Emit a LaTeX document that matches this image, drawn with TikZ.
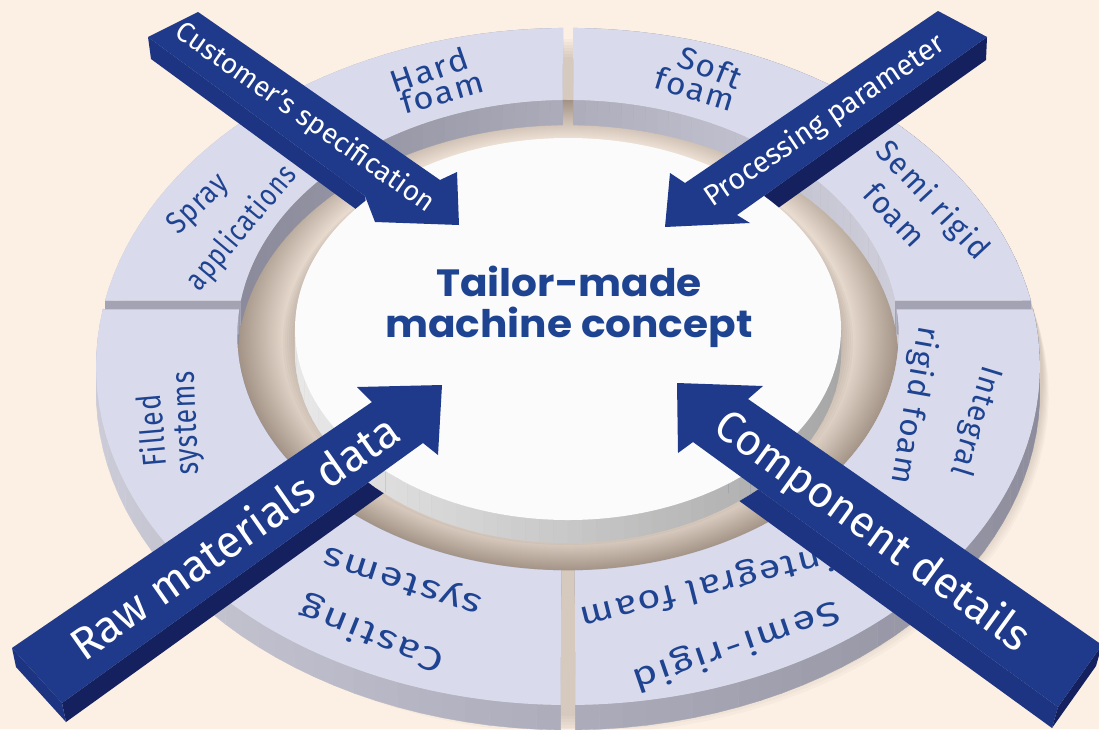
\documentclass[tikz,border=0pt]{standalone}
\usepackage{fontspec}
\setmainfont{Fira Sans}
\newfontfamily\ctrfont{Poppins}
\usetikzlibrary{calc}
\definecolor{bgc}{HTML}{FCEFE4}
\definecolor{segtop}{HTML}{D9DAEC}
\definecolor{wlight}{HTML}{CFCFDC}
\definecolor{wdark}{HTML}{8A8A9A}
\definecolor{wmid}{HTML}{A3A3B3}
\definecolor{dtop}{HTML}{FBFBFB}
\definecolor{dlight}{HTML}{EAEAEA}
\definecolor{ddark}{HTML}{A6A6A6}
\definecolor{arrtop}{HTML}{1F3A8A}
\definecolor{arrlit}{HTML}{1C3482}
\definecolor{arrdark}{HTML}{14215E}
\definecolor{labc}{HTML}{1E4391}
\definecolor{shc}{HTML}{6E5E52}
\definecolor{holein}{HTML}{F6E9DD}
\definecolor{holeout}{HTML}{A29386}
\pgfdeclareradialshading{holesh}{\pgfpoint{0bp}{0bp}}{color(0bp)=(holein); color(20.5bp)=(holein); color(25bp)=(holeout); color(50bp)=(holeout)}

\newcommand\ringseg[2]{%
 \pgfmathsetmacro\sOa{#1+0.75}%
 \pgfmathsetmacro\sOb{#2-0.75}%
 \pgfmathsetmacro\sIa{#1+1.06}%
 \pgfmathsetmacro\sIb{#2-1.06}%
 \foreach \i in {0,...,17}{%
  \pgfmathsetmacro\fA{\sOa+(\sOb-\sOa)*\i/18}%
  \pgfmathsetmacro\fB{\sOa+(\sOb-\sOa)*(\i+1)/18}%
  \pgfmathtruncatemacro\fP{50-48*cos((\fA+\fB)/2)}%
  \path[fill=wlight!\fP!wdark, draw=wlight!\fP!wdark, line width=0.3pt]
   ({PX(1,\fA)},{PY(1,\fA)}) -- ({PX(1,\fB)},{PY(1,\fB)}) --
   ({PX(1,\fB)},{PY(1,\fB)+25}) -- ({PX(1,\fA)},{PY(1,\fA)+25}) -- cycle;
 }%
 \foreach \i in {0,...,17}{%
  \pgfmathsetmacro\fA{\sIa+(\sIb-\sIa)*\i/18}%
  \pgfmathsetmacro\fB{\sIa+(\sIb-\sIa)*(\i+1)/18}%
  \pgfmathtruncatemacro\fP{50+48*cos((\fA+\fB)/2)}%
  \path[fill=wlight!\fP!wdark, draw=wlight!\fP!wdark, line width=0.3pt]
   ({PX(0.707,\fA)},{PY(0.707,\fA)}) -- ({PX(0.707,\fB)},{PY(0.707,\fB)}) --
   ({PX(0.707,\fB)},{PY(0.707,\fB)+25}) -- ({PX(0.707,\fA)},{PY(0.707,\fA)+25}) -- cycle;
 }%
 \path[fill=wmid] ({PX(1,\sOa)},{PY(1,\sOa)}) -- ({PX(0.707,\sIa)},{PY(0.707,\sIa)}) --
   ({PX(0.707,\sIa)},{PY(0.707,\sIa)+25}) -- ({PX(1,\sOa)},{PY(1,\sOa)+25}) -- cycle;
 \path[fill=wmid] ({PX(1,\sOb)},{PY(1,\sOb)}) -- ({PX(0.707,\sIb)},{PY(0.707,\sIb)}) --
   ({PX(0.707,\sIb)},{PY(0.707,\sIb)+25}) -- ({PX(1,\sOb)},{PY(1,\sOb)+25}) -- cycle;
 \path[fill=segtop] plot[domain=\sOa:\sOb, samples=60, variable=\x] ({PX(1,\x)},{PY(1,\x)})
   -- plot[domain=\sIa:\sIb, samples=45, variable=\x] ({PX(0.707,\sIa+\sIb-\x)},{PY(0.707,\sIa+\sIb-\x)}) -- cycle;
}

\begin{document}
\begin{tikzpicture}[x=1pt,y=-1pt,
  declare function={PX(\q,\w)=568+464*\q*cos(\w)/(1+0.1817*\q*sin(\w));
                    PY(\q,\w)=305-327.3*\q*sin(\w)/(1+0.1817*\q*sin(\w));},
  seglab/.style={font=\fontsize{31}{30}\selectfont\addfontfeatures{LetterSpace=5}, text=labc, align=center, inner sep=0pt},
  biglab/.style={seglab, font=\fontsize{33}{37}\selectfont\addfontfeatures{LetterSpace=5}},
  arrlab/.style={text=white, inner sep=0pt}]
\fill[bgc] (0,0) rectangle (1099,729);
\useasboundingbox (0,0) rectangle (1099,729);

% arrow vertices
\coordinate (a1c1) at (198,12);  \coordinate (a1s1) at (440,180); \coordinate (a1b1) at (457,172);
\coordinate (a1t) at (459,225);  \coordinate (a1b2) at (375,222); \coordinate (a1s2) at (365,196);
\coordinate (a1c2) at (148,37);
\coordinate (a2c1) at (938,11);  \coordinate (a2s1) at (685,183); \coordinate (a2b1) at (670,173);
\coordinate (a2t) at (665,227);  \coordinate (a2b2) at (750,223); \coordinate (a2s2) at (737,215);
\coordinate (a2c2) at (987,37);
\coordinate (a3c1) at (12,648);  \coordinate (a3s1) at (372,402); \coordinate (a3b1) at (357,387);
\coordinate (a3t) at (442,385);  \coordinate (a3b2) at (438,455); \coordinate (a3s2) at (423,443);
\coordinate (a3c2) at (62,703);
\coordinate (a4c1) at (1102,645); \coordinate (a4s1) at (748,399); \coordinate (a4b1) at (763,386);
\coordinate (a4t) at (677,383);  \coordinate (a4b2) at (678,453); \coordinate (a4s2) at (693,442);
\coordinate (a4c2) at (1058,707);

% ring shadow
\foreach \k in {1,...,7}{
  \fill[shc, opacity=0.04] plot[domain=0:360, samples=100, variable=\x] ({PX(1,\x)+2+\k},{PY(1,\x)+8+3*\k}) -- cycle;
}
% arrow shadows
\foreach \k in {1,...,6}{
  \begin{scope}[shift={(1*\k,6+3*\k)}]
  \fill[shc, opacity=0.05] (a1c1) -- (a1s1) -- (a1b1) -- (a1t) -- (a1b2) -- (a1s2) -- (a1c2) -- cycle;
  \fill[shc, opacity=0.05] (a2c1) -- (a2s1) -- (a2b1) -- (a2t) -- (a2b2) -- (a2s2) -- (a2c2) -- cycle;
  \fill[shc, opacity=0.05] (a3c1) -- (a3s1) -- (a3b1) -- (a3t) -- (a3b2) -- (a3s2) -- (a3c2) -- cycle;
  \fill[shc, opacity=0.05] (a4c1) -- (a4s1) -- (a4b1) -- (a4t) -- (a4b2) -- (a4s2) -- (a4c2) -- cycle;
  \end{scope}
}
% hole
\shade[shading=holesh] plot[domain=0:360, samples=100, variable=\x] ({PX(0.707,\x)},{PY(0.707,\x)}) -- cycle;
% disc shadow (soft)
\foreach \k in {1,...,6}{
  \fill[shc, opacity=0.06] (568,336+\k) ellipse [x radius={(273+2*\k)*1pt}, y radius={(191+2*\k)*1pt}];
}
% ring segments, far to near
\ringseg{90}{135}
\ringseg{45}{90}
\ringseg{135}{180}
\ringseg{0}{45}
\ringseg{180}{225}
\ringseg{315}{360}
\ringseg{225}{270}
\ringseg{270}{315}

% ring labels (lie under the arrows)
\node[seglab, rotate=19, xscale=1.12] (hard1) at (429,70) {Hard};
\node[seglab, rotate=16, xscale=1.12] (hard2) at (442,92) {foam};
\node[seglab, rotate=-22, xscale=1.08] (soft1) at (710,67) {Soft};
\node[seglab, rotate=-17, xscale=1.08] (soft2) at (695,89) {foam};
\node[seglab, rotate=44, xscale=0.86] (spray1) at (199,205) {Spray};
\node[seglab, rotate=50, xscale=0.8] (spray2) at (242,228) {applications};
\node[seglab, rotate=-47, xscale=0.97] (semi1) at (932,201) {Semi rigid};
\node[seglab, rotate=-47, xscale=0.97] (semi2) at (895,215) {foam};
\node[biglab, rotate=95, xscale=0.8] (filled1) at (151,431) {Filled};
\node[biglab, rotate=92, xscale=0.8] (filled2) at (189,423) {systems};
\node[seglab, rotate=-107, xscale=0.95] (integ1) at (975,421) {Integral};
\node[seglab, rotate=-100, xscale=1.02] (integ2) at (914,405) {rigid foam};
\node[biglab, rotate=158, xscale=1.28] (cast1) at (372,634) {Casting};
\node[biglab, rotate=162, xscale=1.28] (cast2) at (403,579) {systems};
\node[biglab, rotate=199, xscale=1.28] (sint1) at (736,645) {Semi-rigid};
\node[biglab, rotate=194, xscale=1.2] (sint2) at (707,586) {integral foam};

% arrow side faces
\fill[arrlit] (a1c2) -- (a1s2) -- ($(a1s2)+(3,22)$) -- ($(a1c2)+(3,22)$) -- cycle;
\fill[arrdark] (a2c2) -- (a2s2) -- ($(a2s2)+(-1,23)$) -- ($(a2c2)+(-1,23)$) -- cycle;
\fill[arrdark] (a3c2) -- (a3s2) -- ($(a3s2)+(4,19)$) -- ($(a3c2)+(4,19)$) -- cycle;
\fill[arrlit] (a3c1) -- (a3c2) -- ($(a3c2)+(4,19)$) -- ($(a3c1)+(4,19)$) -- cycle;
\fill[arrlit] (a4c2) -- (a4s2) -- ($(a4s2)+(-6,21)$) -- ($(a4c2)+(-6,21)$) -- cycle;
\fill[arrdark] (a4c1) -- (a4c2) -- ($(a4c2)+(-6,21)$) -- ($(a4c1)+(-6,21)$) -- cycle;

% central disc
\foreach \i in {0,...,59}{
  \pgfmathsetmacro\fA{180+3*\i}
  \pgfmathsetmacro\fB{183+3*\i}
  \pgfmathtruncatemacro\fP{50-48*cos(\fA+1.5)}
  \path[fill=dlight!\fP!ddark, draw=dlight!\fP!ddark, line width=0.3pt]
   ({568+273*cos(\fA)},{329-191*sin(\fA)}) -- ({568+273*cos(\fB)},{329-191*sin(\fB)}) --
   ({568+273*cos(\fB)},{352-191*sin(\fB)}) -- ({568+273*cos(\fA)},{352-191*sin(\fA)}) -- cycle;
}
\fill[dtop] (568,329) ellipse [x radius=273pt, y radius=191pt];

% arrow top faces
\fill[arrtop] (a1c1) -- (a1s1) -- (a1b1) -- (a1t) -- (a1b2) -- (a1s2) -- (a1c2) -- cycle;
\fill[arrtop] (a2c1) -- (a2s1) -- (a2b1) -- (a2t) -- (a2b2) -- (a2s2) -- (a2c2) -- cycle;
\fill[arrtop] (a3c1) -- (a3s1) -- (a3b1) -- (a3t) -- (a3b2) -- (a3s2) -- (a3c2) -- cycle;
\fill[arrtop] (a4c1) -- (a4s1) -- (a4b1) -- (a4t) -- (a4b2) -- (a4s2) -- (a4c2) -- cycle;

% centre and arrow labels
\node[font=\ctrfont\bfseries\fontsize{38}{41}\selectfont, text=labc, align=center, inner sep=0pt, xscale=1.07] (ctr) at (569,307) {Tailor-made\\machine concept};
\node[arrlab, rotate=-35, font=\fontsize{28}{28}\selectfont] (l1) at (305,118) {Customer’s specification};
\node[arrlab, rotate=34, font=\fontsize{29}{29}\selectfont] (l2) at (825,121) {Processing parameter};
\node[arrlab, rotate=35, font=\fontsize{45}{45}\selectfont] (l3) at (234,536) {Raw materials data};
\node[arrlab, rotate=-36, font=\fontsize{44}{44}\selectfont] (l4) at (872,532) {Component details};
\end{tikzpicture}
\end{document}
